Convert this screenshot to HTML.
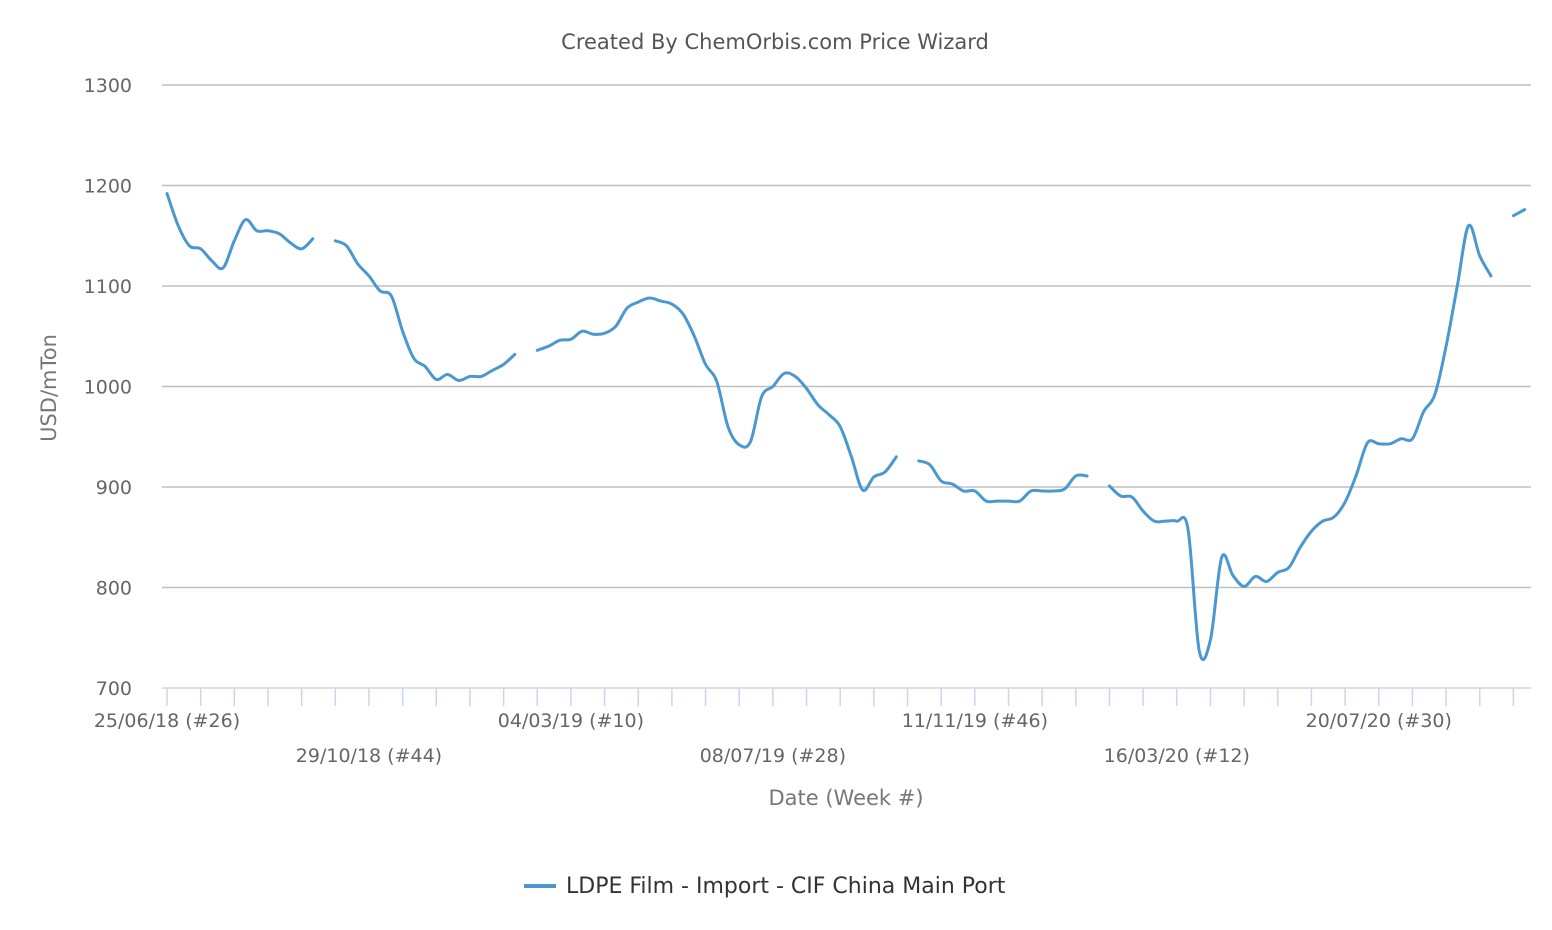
<!DOCTYPE html>
<html><head><meta charset="utf-8"><style>
body{margin:0;background:#fff;}
svg{display:block;font-family:"DejaVu Sans","Liberation Sans",sans-serif;}
</style></head><body>
<svg id="chart" width="1552" height="930" viewBox="0 0 1552 930">
<text x="775" y="49" text-anchor="middle" font-size="21" fill="#555">Created By ChemOrbis.com Price Wizard</text>
<g id="grid"></g><g id="xaxis"></g><g id="series"></g>
<text transform="translate(56,388) rotate(-90)" text-anchor="middle" font-size="21" fill="#777">USD/mTon</text>
<text x="846" y="805" text-anchor="middle" font-size="21" fill="#777">Date (Week #)</text>
<g>
<line x1="524" y1="886" x2="556" y2="886" stroke="#4a98d0" stroke-width="4"/>
<text x="566" y="893" font-size="22" fill="#333">LDPE Film - Import - CIF China Main Port</text>
</g>
</svg>
<script>
const yTicks=[700,800,900,1000,1100,1200,1300];
const xLabels=["25/06/18 (#26)","29/10/18 (#44)","04/03/19 (#10)","08/07/19 (#28)","11/11/19 (#46)","16/03/20 (#12)","20/07/20 (#30)"];
const values=[1192,1160,1140,1137,1125,1118,1145,1166,1155,1155,1152,1143,1137,1147,null,
1145,1140,1122,1110,1095,1090,1055,1028,1020,1007,1012,1006,1010,1010,1016,1022,1032,null,
1036,1040,1046,1047,1055,1052,1053,1060,1078,1084,1088,1085,1082,1072,1050,1022,1005,960,942,945,990,1000,1013,1010,998,982,972,960,930,897,910,915,930,null,
926,922,906,903,896,896,886,886,886,886,896,896,896,898,911,911,null,
901,891,890,876,866,866,866,858,737,748,830,812,801,811,806,815,820,840,856,866,870,885,912,944,943,943,948,948,975,992,1040,1100,1160,1130,1110,null,1170,1176];
const NS="http://www.w3.org/2000/svg";
const X0=167,DX=11.22,Y0=688,YS=100.5/100;
const xs=i=>X0+i*DX, ys=v=>Y0-(v-700)*YS;
const g=document.getElementById('grid'),xa=document.getElementById('xaxis'),s=document.getElementById('series');
function mk(tag,attrs,parent){const e=document.createElementNS(NS,tag);for(const k in attrs)e.setAttribute(k,attrs[k]);parent.appendChild(e);return e;}
yTicks.forEach(v=>{
 if(v>700){const l=mk('line',{x1:162,x2:1531,y1:ys(v),y2:ys(v),stroke:'#c0c0c0','stroke-width':1.5},g);
 
 }
 const t=mk('text',{x:132,y:ys(v)+7,'text-anchor':'end','font-size':19,fill:'#666'},g);t.textContent=v;
 
 
});
const ax=mk('line',{x1:162,x2:1531,y1:Y0,y2:Y0,stroke:'#ccd6eb','stroke-width':1.5},xa);


for(let i=0;i<values.length;i+=3){const t=mk('line',{x1:xs(i),x2:xs(i),y1:Y0,y2:Y0+18,stroke:'#ccd6eb','stroke-width':1.5},xa);
 
 }
xLabels.forEach((lab,k)=>{const t=mk('text',{x:xs(k*18),y:k%2?762:727,'text-anchor':'middle','font-size':19,fill:'#666'},xa);t.textContent=lab;
 
 });
let segs=[],cur=[];
values.forEach((v,i)=>{if(v==null){if(cur.length)segs.push(cur);cur=[];}else cur.push([xs(i),ys(v)]);});
if(cur.length)segs.push(cur);
segs.forEach(p=>{let d='M'+p[0][0]+','+p[0][1];
 for(let i=0;i<p.length-1;i++){const p0=p[i-1]||p[i],p1=p[i],p2=p[i+1],p3=p[i+2]||p2;
 d+=' C'+(p1[0]+(p2[0]-p0[0])/6)+','+(p1[1]+(p2[1]-p0[1])/6)+' '+(p2[0]-(p3[0]-p1[0])/6)+','+(p2[1]-(p3[1]-p1[1])/6)+' '+p2[0]+','+p2[1];}
 const e=mk('path',{d:d,fill:'none',stroke:'#4a98d0','stroke-width':3,'stroke-linecap':'round','stroke-linejoin':'round'},s);
 
 
});
</script>
</body></html>
